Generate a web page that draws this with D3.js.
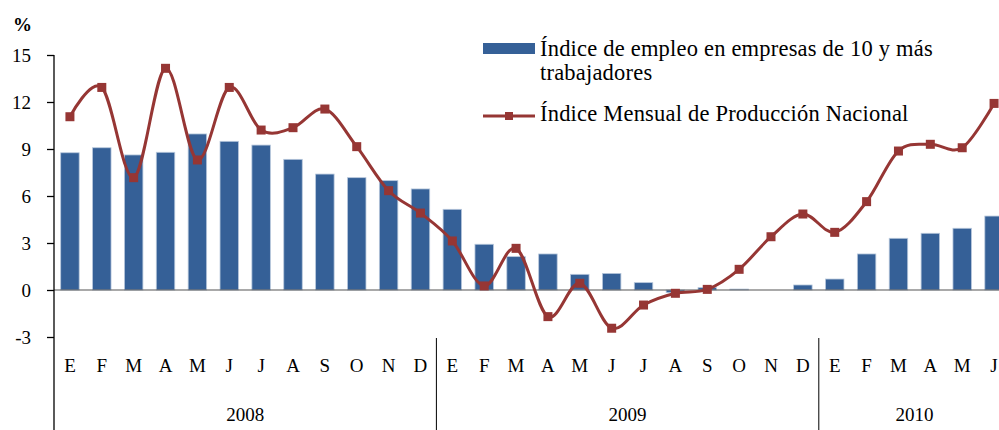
<!DOCTYPE html>
<html>
<head>
<meta charset="utf-8">
<script src="https://cdn.jsdelivr.net/npm/d3@7"></script>
<style>
  body { margin: 0; background: #fff; }
  svg text { font-family: "Liberation Serif", "DejaVu Serif", serif; fill: #000; }
</style>
</head>
<body>
<div id="chart"></div>
<script>
var months = ["E","F","M","A","M","J","J","A","S","O","N","D",
              "E","F","M","A","M","J","J","A","S","O","N","D",
              "E","F","M","A","M","J"];
var years = ["2008", "2009", "2010"];
var yearSpan = [12, 12, 6];
// Índice de empleo en empresas de 10 y más trabajadores
var empleo = [8.76, 9.08, 8.62, 8.79, 9.96, 9.49, 9.25, 8.34, 7.40, 7.17, 6.98, 6.45,
              5.15, 2.92, 2.13, 2.30, 1.00, 1.06, 0.47, -0.17, 0.15, 0.06, 0.00, 0.32,
              0.70, 2.30, 3.30, 3.62, 3.94, 4.72];
// Índice Mensual de Producción Nacional
var produccion = [11.06, 12.93, 7.17, 14.15, 8.30, 12.93, 10.21, 10.36, 11.55, 9.15, 6.34, 4.91,
                  3.13, 0.26, 2.66, -1.70, 0.43, -2.44, -0.96, -0.21, 0.04, 1.32, 3.40, 4.85,
                  3.68, 5.64, 8.87, 9.30, 9.08, 11.91];
var yTicks = [-3, 0, 3, 6, 9, 12, 15];

var width = 999, height = 430;
var margin = {top: 55, left: 54, right: -11, bottom: 93};
var blue = "#356097", red = "#963634";
var serif = "'Liberation Serif', 'DejaVu Serif', serif";

var svg = d3.select("#chart").append("svg")
    .attr("width", width)
    .attr("height", height);

var idx = d3.range(months.length);
var x = d3.scaleBand()
    .domain(idx)
    .range([margin.left, width - margin.right])
    .paddingInner(0.42)
    .paddingOuter(0.21);

var y = d3.scaleLinear()
    .domain([-3, 15])
    .range([height - margin.bottom, margin.top]);

// bars
svg.append("g")
    .selectAll("rect")
    .data(empleo)
    .enter().append("rect")
    .attr("x", function(d, i) { return x(i); })
    .attr("width", x.bandwidth())
    .attr("y", function(d) { return y(Math.max(0, d)); })
    .attr("height", function(d) { return Math.abs(y(d) - y(0)); })
    .attr("fill", blue)
    .attr("stroke", "#b8c8dc")
    .attr("stroke-width", 0.8);

// zero line
svg.append("line")
    .attr("x1", margin.left).attr("x2", width)
    .attr("y1", y(0)).attr("y2", y(0))
    .attr("stroke", "#555").attr("stroke-width", 1.2);

// y axis
var yAxis = d3.axisLeft(y)
    .tickValues(yTicks)
    .tickFormat(function(d) { return String(d); })
    .tickSize(7)
    .tickPadding(16);
var ga = svg.append("g")
    .attr("transform", "translate(" + margin.left + ",0)")
    .call(yAxis)
    .attr("font-family", serif)
    .attr("font-size", 19);
ga.select(".domain").remove();
ga.selectAll(".tick line").attr("stroke", "#000").attr("stroke-width", 1.3);
ga.selectAll(".tick text").attr("dy", "0.34em");
svg.append("line")
    .attr("x1", margin.left).attr("x2", margin.left)
    .attr("y1", y(15)).attr("y2", height)
    .attr("stroke", "#000").attr("stroke-width", 1.3);

svg.append("text")
    .attr("x", 13).attr("y", 31)
    .style("font-size", "19px")
    .style("font-weight", "bold")
    .text("%");

// month labels
svg.append("g")
    .selectAll("text")
    .data(months)
    .enter().append("text")
    .attr("x", function(d, i) { return x(i) + x.bandwidth() / 2; })
    .attr("y", 372)
    .attr("text-anchor", "middle")
    .style("font-size", "19px")
    .text(function(d) { return d; });

// year groups
var step = x.step();
var start = 0;
years.forEach(function(yr, k) {
    var x0 = margin.left + start * step;
    var x1 = margin.left + (start + yearSpan[k]) * step;
    svg.append("text")
        .attr("x", (x0 + x1) / 2)
        .attr("y", 421)
        .attr("text-anchor", "middle")
        .style("font-size", "19px")
        .text(yr);
    if (k > 0) {
        svg.append("line")
            .attr("x1", x0).attr("x2", x0)
            .attr("y1", 338).attr("y2", height)
            .attr("stroke", "#000").attr("stroke-width", 1);
    }
    start += yearSpan[k];
});

// production line
var line = d3.line()
    .x(function(d, i) { return x(i) + x.bandwidth() / 2; })
    .y(function(d) { return y(d); })
    .curve(d3.curveCatmullRom.alpha(0));

svg.append("path")
    .datum(produccion)
    .attr("d", line)
    .attr("fill", "none")
    .attr("stroke", red)
    .attr("stroke-width", 3);

svg.append("g")
    .selectAll("rect")
    .data(produccion)
    .enter().append("rect")
    .attr("x", function(d, i) { return x(i) + x.bandwidth() / 2 - 4.5; })
    .attr("y", function(d) { return y(d) - 4.5; })
    .attr("width", 9).attr("height", 9)
    .attr("fill", red);

// legend
var lg = svg.append("g")
    .style("font-size", "22.5px")
    .style("letter-spacing", "0.2px");
lg.append("rect")
    .attr("x", 483).attr("y", 43)
    .attr("width", 52).attr("height", 11)
    .attr("fill", blue);
lg.append("text")
    .attr("x", 540).attr("y", 56)
    .text("Índice de empleo en empresas de 10 y más");
lg.append("text")
    .attr("x", 540).attr("y", 80)
    .text("trabajadores");
lg.append("line")
    .attr("x1", 483).attr("x2", 535)
    .attr("y1", 116).attr("y2", 116)
    .attr("stroke", red).attr("stroke-width", 3);
lg.append("rect")
    .attr("x", 505).attr("y", 112)
    .attr("width", 8).attr("height", 8)
    .attr("fill", red);
lg.append("text")
    .attr("x", 540).attr("y", 121)
    .text("Índice Mensual de Producción Nacional");
</script>
</body>
</html>
